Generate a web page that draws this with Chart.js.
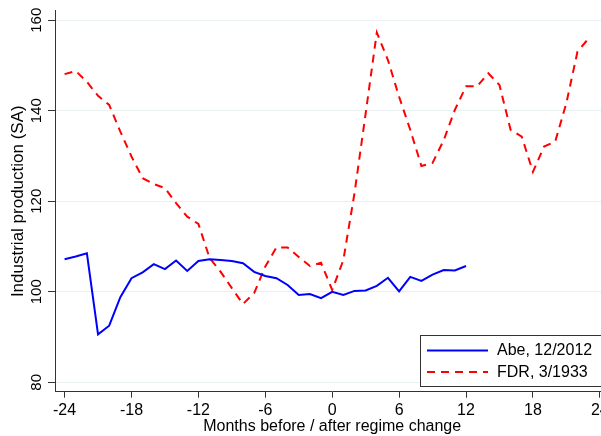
<!DOCTYPE html>
<html>
<head>
<meta charset="utf-8">
<title>Industrial production: Abe vs FDR</title>
<script src="https://cdn.jsdelivr.net/npm/chart.js@4.4.1/dist/chart.umd.min.js"></script>
<style>
  html, body { margin: 0; padding: 0; background: #fff; overflow: hidden; }
  #wrap { width: 601px; height: 436px; overflow: hidden; }
  canvas { display: block; }
</style>
</head>
<body>
<div id="wrap"><canvas id="myChart" width="660" height="436"></canvas></div>
<script>
// months relative to regime change
const abeMonths = [-24, -23, -22, -21, -20, -19, -18, -17, -16, -15, -14, -13, -12, -11, -10, -9, -8, -7, -6, -5, -4, -3, -2, -1,
  0, 1, 2, 3, 4, 5, 6, 7, 8, 9, 10, 11, 12];
const abeValues = [107.2, 107.8, 108.5, 90.6, 92.5, 98.8, 103.0, 104.3, 106.1, 105.0, 106.9, 104.6, 106.8, 107.2, 107.0, 106.8, 106.3, 104.4, 103.5, 103.0, 101.5, 99.3, 99.5, 98.6,
  100.0, 99.3, 100.2, 100.3, 101.3, 103.1, 100.1, 103.3, 102.4, 103.8, 104.8, 104.7, 105.7];

const fdrMonths = [-24, -23, -22, -21, -20, -19, -18, -17, -16, -15, -14, -13, -12, -11, -10, -9, -8, -7, -6, -5, -4, -3, -2, -1,
  0, 1, 2, 3, 4, 5, 6, 7, 8, 9, 10, 11, 12, 13, 14, 15, 16, 17, 18, 19, 20, 21, 22, 23];
const fdrValues = [148.1, 148.8, 146.4, 143.3, 141.3, 135.4, 129.9, 125.1, 123.8, 122.9, 119.6, 116.6, 115.0, 107.5, 104.4, 100.8, 97.3, 99.7, 105.6, 109.8, 109.8, 107.7, 105.7, 106.4,
  100.4, 107.0, 121.8, 139.4, 157.3, 151.2, 143.1, 135.8, 127.8, 128.5, 133.5, 140.2, 145.4, 145.4, 148.3, 145.7, 135.8, 134.3, 126.5, 132.1, 133.2, 141.7, 153.1, 156.0];

const xTicks = [-24, -18, -12, -6, 0, 6, 12, 18, 24];
const yTicks = [80, 100, 120, 140, 160];
const seriesNames = ['Abe, 12/2012', 'FDR, 3/1933'];

const toPoints = (xs, ys) => xs.map((x, i) => ({x: x, y: ys[i]}));

Chart.defaults.font.family = '"Liberation Sans", Arial, sans-serif';
Chart.defaults.color = '#000';

// stata-like legend box in the lower right corner
const legendBox = {
  id: 'legendBox',
  afterDraw(chart) {
    const ctx = chart.ctx;
    const left = 420.5, top = 335.5, right = 640, bottom = 386.5;
    ctx.save();
    ctx.fillStyle = '#fff';
    ctx.fillRect(left, top, right - left, bottom - top);
    ctx.strokeStyle = '#333';
    ctx.lineWidth = 1;
    ctx.strokeRect(left, top, right - left, bottom - top);

    chart.data.datasets.forEach((ds, i) => {
      const y = 350.5 + i * 21.5;
      ctx.beginPath();
      ctx.strokeStyle = ds.borderColor;
      ctx.lineWidth = ds.borderWidth;
      ctx.setLineDash(ds.borderDash || []);
      ctx.moveTo(427, y);
      ctx.lineTo(488, y);
      ctx.stroke();
      ctx.setLineDash([]);
      ctx.fillStyle = '#000';
      ctx.font = '16px "Liberation Sans", Arial, sans-serif';
      ctx.textBaseline = 'middle';
      ctx.fillText(ds.label, 497, y + 0.5);
    });
    ctx.restore();
  }
};

const ctx = document.getElementById('myChart');
new Chart(ctx, {
  type: 'line',
  data: {
    datasets: [{
      label: seriesNames[0],
      data: toPoints(abeMonths, abeValues),
      borderColor: '#0000ff',
      borderWidth: 2,
      pointRadius: 0,
      tension: 0,
      fill: false
    }, {
      label: seriesNames[1],
      data: toPoints(fdrMonths, fdrValues),
      borderColor: '#ff0000',
      borderWidth: 2,
      borderDash: [8, 6],
      pointRadius: 0,
      tension: 0,
      fill: false
    }]
  },
  options: {
    responsive: false,
    animation: false,
    layout: { padding: { left: 0, top: 10.7, right: 50.6, bottom: 0 } },
    plugins: {
      legend: { display: false },
      tooltip: { enabled: false }
    },
    scales: {
      x: {
        type: 'linear',
        min: -24.86,
        max: 24.86,
        afterBuildTicks: (scale) => { scale.ticks = xTicks.map(v => ({value: v})); },
        afterFit: (scale) => { scale.height = 44.3; },
        grid: { drawOnChartArea: false, drawTicks: true, tickLength: 6, tickColor: '#333' },
        border: { color: '#333', width: 1 },
        ticks: {
          padding: 3.5,
          maxRotation: 0,
          font: { size: 16 },
          callback: (v) => String(v)
        },
        title: {
          display: true,
          text: 'Months before / after regime change',
          font: { size: 16 },
          padding: { top: 0, bottom: 0 }
        }
      },
      y: {
        min: 77.92,
        max: 162.12,
        afterBuildTicks: (scale) => { scale.ticks = yTicks.map(v => ({value: v})); },
        afterFit: (scale) => { scale.width = 55; },
        grid: { color: '#e8f0f1', lineWidth: 1, drawTicks: true, tickLength: 7, tickColor: '#333' },
        border: { color: '#333', width: 1 },
        ticks: {
          minRotation: 90,
          maxRotation: 90,
          crossAlign: 'center',
          padding: -1.6,
          font: { size: 15 },
          callback: (v) => String(v)
        },
        title: {
          display: true,
          text: 'Industrial production (SA)',
          font: { size: 17 },
          padding: { top: 8, bottom: 0 }
        }
      }
    }
  },
  plugins: [legendBox]
});
</script>
</body>
</html>
